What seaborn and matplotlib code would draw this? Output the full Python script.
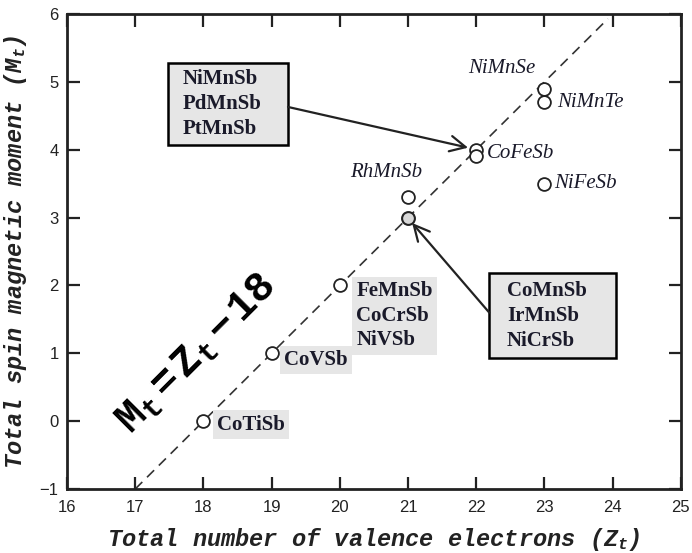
import matplotlib
matplotlib.use("Agg")
import matplotlib.pyplot as plt
from matplotlib.patches import Rectangle
import seaborn as sns
import pandas as pd

# ---- data ----
zt = [18, 19, 20, 21, 21, 22, 22, 23, 23, 23]
mt = [0.0, 1.0, 2.0, 3.0, 3.3, 4.0, 3.9, 4.9, 4.7, 3.5]
filled = [False, False, False, True, False, False, False, False, False, False]

line_x = [17, 23.93]
line_y = [-1, 5.93]

boxed_labels = [  # (text, x, y)
    ("CoTiSb", 18.2, -0.05),
    ("CoVSb", 19.18, 0.9),
    ("FeMnSb\nCoCrSb\nNiVSb", 20.24, 1.55),
]
italic_labels = [
    ("NiMnSe", 21.88, 5.2),
    ("NiMnTe", 23.18, 4.7),
    ("CoFeSb", 22.15, 3.95),
    ("NiFeSb", 23.14, 3.5),
    ("RhMnSb", 20.15, 3.67),
]
group1 = ["NiMnSb", "PdMnSb", "PtMnSb"]
group2 = ["CoMnSb", "IrMnSb", "NiCrSb"]
xticks = [16, 17, 18, 19, 20, 21, 22, 23, 24, 25]
yticks = [-1, 0, 1, 2, 3, 4, 5, 6]

df = pd.DataFrame({"Zt": zt, "Mt": mt, "filled": filled})

sns.set_theme(style="ticks")
plt.rcParams["font.family"] = ["Liberation Sans", "DejaVu Sans"]
plt.rcParams["mathtext.fontset"] = "custom"
plt.rcParams["mathtext.it"] = "Liberation Mono:italic:bold"
plt.rcParams["mathtext.bf"] = "Liberation Mono:bold"
plt.rcParams["mathtext.rm"] = "Liberation Mono:bold"

fig = plt.figure(figsize=(6.92, 5.53), dpi=100)
ax = fig.add_axes([0.0968, 0.1157, 0.8872, 0.8590])

ax.plot(line_x, line_y, color="#333333", lw=1.2, ls=(0, (6, 4)), zorder=1)

sns.scatterplot(data=df[~df.filled], x="Zt", y="Mt", ax=ax, s=85,
                facecolor="white", edgecolor="#222222", linewidth=1.3, zorder=3)
sns.scatterplot(data=df[df.filled], x="Zt", y="Mt", ax=ax, s=85,
                facecolor="#d8d8d8", edgecolor="#222222", linewidth=1.5, zorder=3)

txtc = "#1a1a2a"
for t, x, y in boxed_labels:
    ax.text(x, y, t, fontfamily="Liberation Serif", fontweight="bold", fontsize=15,
            color=txtc, va="center", ha="left", linespacing=1.3,
            bbox=dict(boxstyle="square,pad=0.2", fc="#e6e6e6", ec="none"), zorder=2)

for t, x, y in italic_labels:
    ax.text(x, y, t, fontfamily="Liberation Serif", fontstyle="italic", fontsize=15,
            color=txtc, va="center", ha="left", zorder=4)

# framed boxes
ax.add_patch(Rectangle((17.48, 4.07), 1.76, 1.21, fc="#e6e6e6", ec="black", lw=1.8, zorder=4))
ax.add_patch(Rectangle((22.19, 0.93), 1.86, 1.26, fc="#e6e6e6", ec="black", lw=1.8, zorder=4))
ax.text(17.7, 4.67, "\n".join(group1), fontfamily="Liberation Serif", fontweight="bold",
        fontsize=15, color=txtc, va="center", ha="left", linespacing=1.35, zorder=5)
ax.text(22.45, 1.55, "\n".join(group2), fontfamily="Liberation Serif", fontweight="bold",
        fontsize=15, color=txtc, va="center", ha="left", linespacing=1.35, zorder=5)

ax.annotate("", xy=(21.88, 4.03), xytext=(19.24, 4.63),
            arrowprops=dict(arrowstyle="->", lw=1.6, color="#222222", mutation_scale=28,
                            shrinkA=0, shrinkB=0), zorder=5)
ax.annotate("", xy=(21.06, 2.92), xytext=(22.19, 1.6),
            arrowprops=dict(arrowstyle="->", lw=1.6, color="#222222", mutation_scale=28,
                            shrinkA=0, shrinkB=0), zorder=5)

ax.text(17.9, 1.0, r"$\mathbf{M_t=Z_t-18}$", fontsize=30, rotation=45,
        ha="center", va="center", color="black", rotation_mode="anchor", zorder=4)

ax.set_xlim(16, 25)
ax.set_ylim(-1, 6)
ax.set_xticks(xticks)
ax.set_yticks(yticks)
ax.tick_params(direction="in", length=9, width=1.6, top=True, right=True,
               labelsize=12, colors="#222222", pad=6)
ax.tick_params(axis="x", pad=8)
for s in ax.spines.values():
    s.set_linewidth(2.0)
    s.set_color("#222222")

ax.set_xlabel(r"Total number of valence electrons ($Z_t$)", fontfamily="Liberation Mono",
              fontweight="bold", fontstyle="italic", fontsize=17, color="#222222", labelpad=8)
ax.set_ylabel(r"Total spin magnetic moment ($M_t$)", fontfamily="Liberation Mono",
              fontweight="bold", fontstyle="italic", fontsize=17, color="#222222", labelpad=8)

fig.savefig("out.png", dpi=100, facecolor="white")
